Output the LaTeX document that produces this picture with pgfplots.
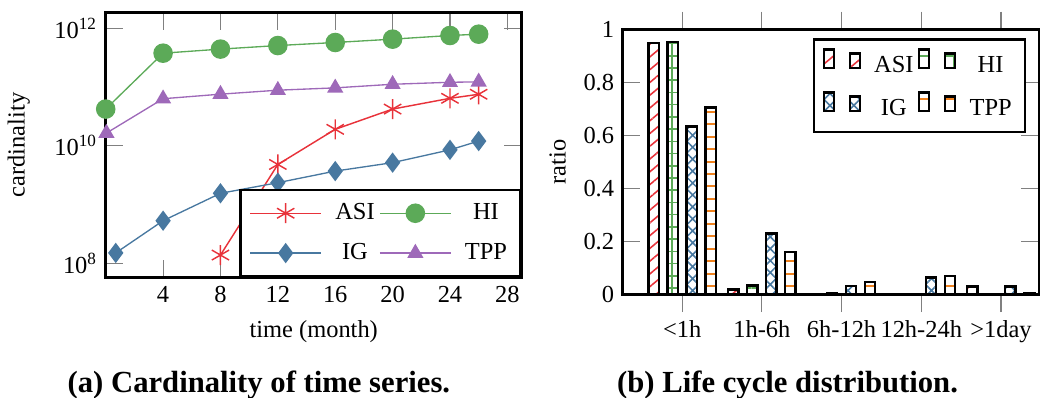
\documentclass[border=0pt]{standalone}
\usepackage{fontspec}
\setmainfont{Liberation Serif}
\usepackage{pgfplots}
\pgfplotsset{compat=1.18}
\usetikzlibrary{patterns.meta}
\definecolor{cASI}{RGB}{232,50,58}
\definecolor{cHI}{RGB}{92,170,88}
\definecolor{cIG}{RGB}{72,120,160}
\definecolor{cTPP}{RGB}{158,105,185}
\definecolor{cOR}{RGB}{240,130,30}
\pgfplotsset{
  linelegend/.style={legend image code/.code={\draw[mark repeat=2,mark phase=2,##1] plot coordinates {(0pt,0pt) (16pt,0pt) (32pt,0pt)};}},
  barlegend/.style={/pgfplots/ybar legend/.style={/pgfplots/legend image code/.code={%
     \draw[####1,/tikz/.cd,yshift=-0.1em] (0pt,0pt) rectangle (4.5pt,8.5pt);
     \draw[####1,/tikz/.cd,yshift=-0.1em] (11.7pt,0pt) rectangle (16.2pt,6.7pt);}}},
}
\begin{document}
\fontsize{11}{13}\selectfont
\begin{tikzpicture}
\path[use as bounding box] (0,0) rectangle (470.7pt,179.1pt);
% ---------------- left chart
\begin{axis}[
  at={(47.57pt,54.14pt)}, anchor=south west, scale only axis,
  width=187.2pt, height=119.43pt,
  ymode=log, xmin=0, xmax=29, ymin=5.69e7, ymax=1.862e12,
  xtick={4,8,12,16,20,24,28},
  ytick={1e8,1e10,1e12},
  yticklabels={10\textsuperscript{8},10\textsuperscript{10},10\textsuperscript{12}},
  yminorticks=false, xminorticks=false,
  /pgf/number format/assume math mode=true,
  tick align=inside,
  major tick length=8pt,
  tick style={gray, line width=0.5pt},
  axis line style={line width=1.2pt},
  xlabel={time (month)}, ylabel={cardinality},
  xlabel style={at={(axis description cs:0.5,-0.2035)}, anchor=center},
  ylabel style={at={(axis description cs:-0.209,0.5)}, anchor=center},
  legend columns=2,
  legend cell align=center,
  legend style={at={(axis description cs:1,0)}, anchor=south east, draw=black, line width=1.2pt, fill=white,
    inner xsep=4pt, inner ysep=4pt, row sep=5pt,
    /tikz/every odd column/.append style={column sep=4pt}},
  linelegend,
]
\addplot[color=cASI, mark=asterisk, mark size=4.5pt, line width=0.65pt] coordinates {(8,1.38e8) (12,4.8e9) (16,1.9e10) (20,4.2e10) (24,6.4e10) (26,7.5e10)};
\addlegendentry{ASI}
\addplot[color=cHI, mark=*, mark size=4.1pt, line width=0.6pt] coordinates {(0,4.2e10) (4,3.75e11) (8,4.4e11) (12,5.06e11) (16,5.7e11) (20,6.5e11) (24,7.5e11) (26,7.9e11)};
\addlegendentry{HI}
\addplot[color=cIG, mark=diamond*, mark size=4.1pt, line width=0.6pt] coordinates {(0.7,1.5e8) (4,5.3e8) (8,1.55e9) (12,2.35e9) (16,3.7e9) (20,5.15e9) (24,8.5e9) (26,1.2e10)};
\addlegendentry{IG}
\addplot[color=cTPP, mark=triangle*, mark size=3.6pt, line width=0.6pt] coordinates {(0.05,1.64e10) (4,6.3e10) (8,7.53e10) (12,8.8e10) (16,9.64e10) (20,1.11e11) (24,1.2e11) (26,1.22e11)};
\addlegendentry{TPP}
\end{axis}
% ---------------- right chart
\begin{axis}[
  at={(280.2pt,46.67pt)}, anchor=south west, scale only axis,
  width=187.3pt, height=119.25pt,
  barlegend,
  ybar=3.95pt, bar width=4.6pt,
  xmin=-0.747, xmax=4.476, ymin=0, ymax=1,
  xtick={0,1,2,3,4},
  xticklabels={<1h,1h-6h,6h-12h,12h-24h,>1day},
  ytick={0,0.2,0.4,0.6,0.8,1},
  /pgf/number format/assume math mode=true,
  ytick align=inside, xtick align=outside,
  major tick length=8pt,
  tick style={gray, line width=0.5pt},
  axis line style={line width=1.2pt},
  ylabel={ratio},
  ylabel style={at={(axis description cs:-0.156,0.5)}, anchor=center},
  legend columns=2,
  legend cell align=center,
  legend style={at={(axis description cs:1,1)}, anchor=north east, xshift=-5.7pt, yshift=-4pt,
    draw=black, line width=1.1pt, fill=white,
    inner xsep=4pt, inner ysep=4pt, row sep=5pt,
    /tikz/every odd column/.append style={column sep=4pt}},
  every axis plot/.append style={draw=black, line width=1pt},
]
\addplot[draw=black, line width=1pt, pattern={Lines[angle=40,distance=4.4pt,line width=0.7pt]}, pattern color=cASI] coordinates {(0,0.947) (1,0.018) (2,0) (3,0) (4,0.029)};
\addlegendentry{ASI}
\addplot[draw=black, line width=1pt, pattern={Hatch[angle=0,distance=5.5pt,line width=0.7pt]}, pattern color=cHI] coordinates {(0,0.951) (1,0.033) (2,0.003) (3,0.002) (4,0)};
\addlegendentry{HI}
\addplot[draw=black, line width=1pt, pattern={Hatch[angle=45,distance=3.8pt,line width=0.7pt]}, pattern color=cIG] coordinates {(0,0.633) (1,0.229) (2,0.031) (3,0.063) (4,0.029)};
\addlegendentry{IG}
\addplot[draw=black, line width=1pt, pattern={Lines[angle=0,distance=5.6pt,line width=0.9pt]}, pattern color=cOR] coordinates {(0,0.705) (1,0.161) (2,0.047) (3,0.069) (4,0.003)};
\addlegendentry{TPP}
\end{axis}
\node[font=\bfseries\fontsize{13.8}{16}\selectfont, anchor=base] at (116.5pt,2.25pt) {(a) Cardinality of time series.};
\node[font=\bfseries\fontsize{13.8}{16}\selectfont, anchor=base] at (354.4pt,2.25pt) {(b) Life cycle distribution.};
\end{tikzpicture}
\end{document}
